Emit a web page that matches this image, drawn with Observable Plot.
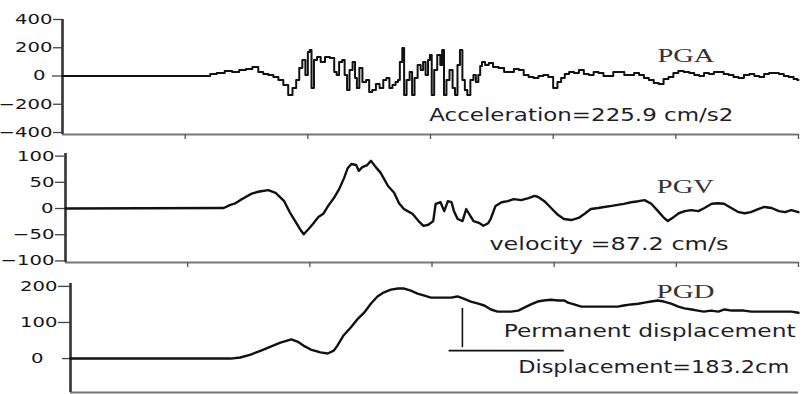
<!DOCTYPE html>
<html><head><meta charset="utf-8">
<script src="https://cdn.jsdelivr.net/npm/d3@7"></script>
<script src="https://cdn.jsdelivr.net/npm/@observablehq/plot@0.6"></script>
<style>
html,body{margin:0;padding:0;background:#fff;}
#chart{width:802px;height:394px;overflow:hidden;position:relative;}
#chart svg{display:block;}
</style></head><body><div id="chart"></div>
<script>
// ---------- data (time in s) ----------
const xTicks = [10, 20, 30, 40, 50, 60];

const accTicks = [-400, -200, 0, 200, 400];
const velTicks = [-100, -50, 0, 50, 100];
const dispTicks = [0, 100, 200];

const accTime = [
  0, 11.84, 12.24, 12.9, 13.55, 14.1, 14.7, 15.2, 15.76, 16.16,
  16.57, 16.98, 17.4, 17.8, 18.2, 18.6, 18.9, 19.2, 19.4, 19.7,
  19.9, 20.1, 20.2, 20.4, 20.6, 20.9, 21.2, 21.6, 22.0, 22.3,
  22.4, 22.7, 22.9, 23.1, 23.3, 23.5, 23.8, 23.9, 24.1, 24.3,
  24.6, 24.9, 25.1, 25.4, 25.7, 26.0, 26.3, 26.5, 26.8, 27.0,
  27.3, 27.4, 27.6, 27.8, 27.9, 28.2, 28.4, 28.6, 28.8, 29.1,
  29.3, 29.5, 29.7, 29.9, 30.0, 30.2, 30.4, 30.7, 30.9, 31.0,
  31.2, 31.4, 31.7, 31.9, 32.1, 32.3, 32.5, 32.7, 32.9, 33.1,
  33.4, 33.6, 33.8, 34.0, 34.1, 34.3, 34.6, 34.9, 35.3, 35.8,
  36.2, 36.6, 37.0, 37.4, 37.8, 38.2, 38.6, 39.0, 39.4, 39.8,
  40.2, 40.5, 40.8, 41.1, 41.5, 41.9, 42.3, 42.7, 43.1, 43.5,
  43.9, 44.3, 44.7, 45.1, 45.6, 46.0, 46.4, 46.8, 47.2, 47.6,
  48.0, 48.4, 48.8, 49.2, 49.6, 50.0, 50.4, 50.9, 51.3, 51.7,
  52.1, 52.5, 52.9, 53.3, 53.7, 54.1, 54.5, 54.9, 55.3, 55.8,
  56.2, 56.6, 57.0, 57.4, 57.8, 58.2, 58.6, 59.0, 59.4, 59.8,
  60.0
];
const accValue = [
  0, 0, 14, 21, 35, 28, 42, 50, 64, 28,
  14, 7, -7, -28, -64, -135, -85, -28, 57, 113,
  7, 170, 184, -85, 113, 134, 99, 134, 127, 28,
  7, 99, 113, 7, -99, 42, 99, -14, -85, 57,
  -42, -28, -113, -99, -57, -85, -28, -14, -85, -64,
  -42, -28, 99, 198, -135, -28, 28, -135, -14, 78,
  42, 99, 7, 113, 149, -135, 42, 149, 78, 184,
  -135, -28, 42, -85, -135, 78, 184, -28, -99, -135,
  -28, 7, -42, 7, 71, 99, 78, 92, 64, 57,
  28, 28, 50, 42, 7, -7, -14, 0, 7, -7,
  -85, -42, -14, 14, 28, 21, 42, 14, 7, 28,
  21, 0, 0, 28, 28, 7, 7, 21, 7, -14,
  -28, -50, -57, -21, -7, 21, 35, 28, 21, 7,
  0, 21, 14, 28, 28, 14, 7, -7, -14, 7,
  14, 0, -7, 14, 21, 21, 14, 0, -7, -21,
  -28
];

const velTime = [
  0, 12.95, 13.5, 13.9, 14.3, 14.75, 15.2, 15.6, 16.0, 16.6,
  17.2, 17.9, 18.4, 18.9, 19.3, 19.5, 19.9, 20.3, 20.7, 21.1,
  21.5, 21.97, 22.4, 22.8, 23.1, 23.4, 23.8, 24.0, 24.3, 24.7,
  25.0, 25.4, 25.8, 26.4, 26.9, 27.3, 27.7, 28.0, 28.4, 28.9,
  29.3, 29.7, 30.1, 30.3, 30.7, 31.0, 31.3, 31.6, 31.8, 32.1,
  32.5, 32.8, 33.0, 33.4, 33.9, 34.2, 34.6, 34.8, 35.2, 35.7,
  36.2, 36.7, 37.3, 37.9, 38.4, 38.7, 39.2, 39.75, 40.3, 40.8,
  41.4, 42.0, 42.5, 43.0, 43.6, 44.1, 44.7, 45.2, 45.7, 46.3,
  46.9, 47.4, 47.95, 48.5, 49.0, 49.3, 49.8, 50.2, 50.7, 51.2,
  51.8, 52.3, 52.9, 53.4, 53.9, 54.5, 55.1, 55.6, 56.1, 56.7,
  57.2, 57.8, 58.4, 58.9, 59.4, 60.0
];
const velValue = [
  0, 1, 7, 10, 16, 22, 28, 31, 33, 35,
  30, 14, -9, -28, -43, -49, -39, -28, -16, -10,
  5, 20, 37, 58, 77, 85, 83, 72, 79, 83,
  91, 79, 68, 43, 30, 10, -1, -5, -10, -24,
  -33, -31, -24, 9, 12, -5, 14, 12, -5, -20,
  -24, -1, -9, -24, -28, -33, -28, -20, 5, 12,
  14, 18, 16, 20, 24, 22, 14, 1, -12, -20,
  -22, -18, -10, -1, 1, 3, 5, 7, 9, 12,
  14, 16, 9, -5, -18, -24, -16, -9, -5, -3,
  -5, 1, 9, 10, 9, 1, -7, -9, -7, -1,
  3, 1, -5, -7, -3, -7
];

const dispTime = [
  0, 13.2, 14.0, 14.85, 15.7, 16.5, 17.3, 18.2, 18.7, 19.2,
  19.8, 20.6, 21.2, 21.7, 22.0, 22.5, 23.1, 23.7, 24.2, 24.75,
  25.3, 25.8, 26.4, 27.0, 27.5, 28.05, 28.6, 29.1, 29.7, 30.5,
  31.35, 31.9, 32.4, 33.0, 33.6, 34.1, 34.65, 35.2, 35.7, 36.3,
  36.9, 37.4, 37.95, 38.5, 39.0, 39.6, 40.2, 40.7, 41.0, 41.5,
  42.1, 42.9, 43.7, 44.55, 45.1, 45.6, 46.2, 46.8, 47.3, 47.85,
  48.4, 48.9, 49.5, 50.1, 50.6, 51.2, 51.7, 52.2, 52.8, 53.4,
  53.9, 54.5, 55.0, 55.5, 56.1, 56.9, 57.8, 58.6, 59.4, 60.0
];
const dispValue = [
  0, 0, 3, 11, 22, 33, 44, 53, 47, 36,
  25, 17, 14, 22, 36, 64, 86, 111, 127, 152,
  172, 183, 191, 194, 194, 188, 180, 175, 169, 169,
  169, 172, 166, 158, 152, 147, 136, 130, 130, 130,
  133, 141, 150, 158, 161, 163, 161, 161, 155, 150,
  144, 144, 144, 144, 144, 147, 150, 152, 155, 158,
  161, 158, 152, 144, 139, 136, 133, 130, 133, 130,
  136, 133, 133, 133, 130, 130, 130, 130, 130, 127
];

const accNote = "Acceleration=225.9 cm/s2";
const velNote = "velocity =87.2 cm/s";
const permNote = "Permanent displacement";
const dispNote = "Displacement=183.2cm";
const tagA = "PGA", tagV = "PGV", tagD = "PGD";

// ---------- drawing ----------
const targetWidths = {};
targetWidths[accNote] = 304; targetWidths[velNote] = 239;
targetWidths[permNote] = 292; targetWidths[dispNote] = 271;
targetWidths[tagA] = 57; targetWidths[tagV] = 57; targetWidths[tagD] = 58;

const sansNote = {fontFamily: "DejaVu Sans", fontSize: 17, fill: "#1e1e2a", textAnchor: "start", lineAnchor: "bottom"};
const serifNote = {fontFamily: "Liberation Serif", fontSize: 18, fill: "#333", textAnchor: "start", lineAnchor: "bottom"};

function panel(o) {
  const data = o.time.map((t, i) => ({t, v: o.value[i]}));
  const nonZero = o.yTicks.filter(d => d !== 0);
  const marks = [
    Plot.ruleY([o.yDomain[0]], {stroke: "#777", strokeWidth: 2}),
    Plot.ruleX([0], {stroke: "#333", strokeWidth: 2.6}),
    Plot.axisY({ticks: nonZero, tickSize: o.tickSize, tickPadding: 1, fontSize: 14, fill: "#151515", stroke: "#444", strokeWidth: 1.3, label: null}),
    Plot.axisY({ticks: [0], tickSize: o.zeroTickSize, tickPadding: o.zeroPad, fontSize: 14, fill: "#151515", stroke: "#444", strokeWidth: 1.3, label: null}),
    Plot.line(data, {x: "t", y: "v", stroke: "#111", strokeWidth: o.strokeWidth, curve: o.curve}),
    ...o.extra
  ];
  if (o.xTickSize) marks.splice(2, 0, Plot.axisX({ticks: xTicks, tickSize: o.xTickSize, tickFormat: () => "", stroke: "#555", strokeWidth: 1.3, label: null}));
  return Plot.plot({
    width: 802, height: o.height,
    marginTop: o.mt, marginBottom: o.mb, marginLeft: o.ml, marginRight: 4,
    x: {domain: [0, 60], axis: null, label: null},
    y: {domain: o.yDomain, axis: null, label: null},
    style: {fontFamily: "DejaVu Sans", background: "transparent", overflow: "visible"},
    marks
  });
}

const panels = [
  panel({time: accTime, value: accValue, height: 140, mt: 19, mb: 6, ml: 62,
    yDomain: [-414, 400], yTicks: accTicks, tickSize: 9, zeroTickSize: 10, zeroPad: 7,
    xTickSize: 5, strokeWidth: 2, curve: "step",
    extra: [
      Plot.text([{t: 29.9, v: -319, s: accNote}], {x: "t", y: "v", text: "s", ...sansNote}),
      Plot.text([{t: 48.5, v: 99, s: tagA}], {x: "t", y: "v", text: "s", ...serifNote})
    ]}),
  panel({time: velTime, value: velValue, height: 130, mt: 13, mb: 8, ml: 65,
    yDomain: [-103, 105], yTicks: velTicks, tickSize: 10, zeroTickSize: 10, zeroPad: 2,
    xTickSize: 5, strokeWidth: 2.4, curve: "linear",
    extra: [
      Plot.text([{t: 34.7, v: -80, s: velNote}], {x: "t", y: "v", text: "s", ...sansNote}),
      Plot.text([{t: 48.4, v: 30, s: tagV}], {x: "t", y: "v", text: "s", ...serifNote})
    ]}),
  panel({time: dispTime, value: dispValue, height: 124, mt: 13, mb: 2, ml: 70,
    yDomain: [-94, 208], yTicks: dispTicks, tickSize: 12, zeroTickSize: 8, zeroPad: 19,
    xTickSize: 0, strokeWidth: 2.4, curve: "linear",
    extra: [
      Plot.ruleX([{t: 32.3, a: 30, b: 139}], {x: "t", y1: "a", y2: "b", stroke: "#111", strokeWidth: 1.6}),
      Plot.ruleY([{v: 22, a: 31.2, b: 40.7}], {y: "v", x1: "a", x2: "b", stroke: "#111", strokeWidth: 1.6}),
      Plot.text([{t: 48.3, v: 169, s: tagD}], {x: "t", y: "v", text: "s", ...serifNote}),
      Plot.text([{t: 35.7, v: 61, s: permNote}], {x: "t", y: "v", text: "s", ...sansNote}),
      Plot.text([{t: 36.9, v: -39, s: dispNote}], {x: "t", y: "v", text: "s", ...sansNote})
    ]})
];

const root = document.getElementById("chart");
panels.forEach(svg => root.appendChild(svg));

// stretch texts horizontally like the reference
root.querySelectorAll("text").forEach(t => {
  const s = t.textContent.trim();
  if (targetWidths[s] !== undefined) {
    t.setAttribute("textLength", targetWidths[s]);
    t.setAttribute("lengthAdjust", "spacingAndGlyphs");
  } else if (/^[-−]?\d+$/.test(s)) {
    const L = t.getComputedTextLength();
    t.setAttribute("textLength", (L * 1.4).toFixed(1));
    t.setAttribute("lengthAdjust", "spacingAndGlyphs");
  }
});
</script>
</body></html>
